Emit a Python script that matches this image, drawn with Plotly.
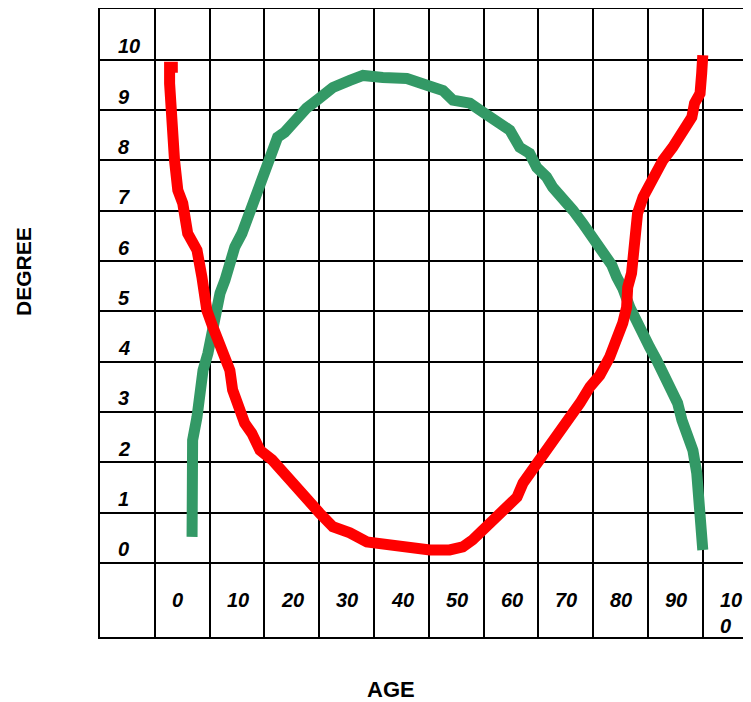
import plotly.graph_objects as go

# Red curve (age, degree)
red_age = [4.2, 2.7, 2.7, 3.1, 3.6, 4.2, 5.1, 6.0, 7.7, 8.6, 9.5, 10.6, 11.9, 12.8, 13.7,
           14.2, 15.1, 16.1, 16.4, 17.7, 19.2, 21.4, 23.4, 25.2, 27.7, 30.1, 32.5, 35.6,
           38.7, 42.9, 47.1, 50.2, 53.8, 56.2, 58.0, 59.9, 61.7, 63.5, 66.1, 67.2, 69.0,
           70.3, 72.1, 73.9, 75.7, 77.6, 79.4, 81.2, 83.0, 84.3, 85.4, 86.1, 86.3, 87.0,
           87.6, 88.1, 89.1, 90.3, 91.6, 92.7, 94.5, 96.4, 98.0, 98.5, 99.5, 99.8, 100.0]
red_deg = [9.85, 9.85, 9.53, 8.54, 8.00, 7.41, 7.15, 6.55, 6.22, 5.68, 5.02, 4.69, 4.37,
           4.03, 3.83, 3.44, 3.18, 2.98, 2.78, 2.58, 2.24, 2.05, 1.79, 1.61, 1.31, 0.99,
           0.72, 0.60, 0.42, 0.36, 0.26, 0.26, 0.26, 0.32, 0.46, 0.66, 0.81, 1.01, 1.31,
           1.59, 1.85, 2.05, 2.30, 2.60, 2.84, 3.18, 3.50, 3.73, 4.09, 4.43, 4.77, 5.08,
           5.48, 5.76, 6.42, 6.95, 7.27, 7.55, 7.86, 8.00, 8.26, 8.60, 8.86, 9.14, 9.33,
           9.73, 10.09]

# Green curve (age, degree)
green_age = [6.8, 6.8, 6.9, 7.7, 8.2, 8.8, 9.7, 10.4, 11.3, 11.9, 12.8, 13.7, 14.6, 15.9,
             16.8, 17.9, 18.6, 19.5, 20.6, 21.9, 22.4, 23.7, 25.0, 26.1, 27.7, 29.6, 32.5,
             35.6, 38.0, 41.6, 46.0, 49.8, 52.6, 54.4, 57.5, 59.9, 62.4, 64.8, 66.6, 68.4,
             69.7, 71.5, 72.6, 74.5, 76.3, 78.1, 79.9, 81.8, 83.4, 84.3, 85.4, 86.7, 88.0,
             89.1, 90.3, 91.6, 92.7, 94.0, 95.4, 96.2, 97.1, 98.2, 98.9, 99.5, 99.8, 100.0]
green_deg = [0.52, 1.59, 2.44, 2.90, 3.38, 3.83, 4.17, 4.57, 5.02, 5.36, 5.62, 5.96, 6.28,
             6.55, 6.81, 7.07, 7.35, 7.67, 8.00, 8.30, 8.46, 8.56, 8.74, 8.86, 9.04, 9.20,
             9.45, 9.59, 9.69, 9.65, 9.63, 9.49, 9.39, 9.20, 9.14, 8.96, 8.80, 8.60, 8.26,
             8.14, 7.86, 7.67, 7.47, 7.25, 7.01, 6.75, 6.47, 6.18, 5.92, 5.68, 5.46, 5.08,
             4.77, 4.47, 4.29, 4.03, 3.77, 3.50, 3.18, 2.84, 2.58, 2.24, 1.79, 1.11, 0.79,
             0.26]

x_tick_vals = [0, 10, 20, 30, 40, 50, 60, 70, 80, 90, 100]
x_tick_labels = ["0", "10", "20", "30", "40", "50", "60", "70", "80", "90", "100"]
y_tick_vals = [10, 9, 8, 7, 6, 5, 4, 3, 2, 1, 0]
y_tick_labels = ["10", "9", "8", "7", "6", "5", "4", "3", "2", "1", "0"]
y_grid_vals = [0, 1, 2, 3, 4, 5, 6, 7, 8, 9, 10, 11]

X_MIN, X_MAX = -10, 108.8
Y_MIN, Y_MAX = -1.47, 11.01

fig = go.Figure()
fig.add_trace(go.Scatter(x=green_age, y=green_deg, mode="lines",
                         line=dict(color="#339966", width=11), showlegend=False))
fig.add_trace(go.Scatter(x=red_age, y=red_deg, mode="lines",
                         line=dict(color="#FF0000", width=11), showlegend=False))

lab_font = dict(family="Liberation Sans, Arial, sans-serif", size=20, color="black",
                weight="bold", style="italic")

for v, lab in zip(x_tick_vals, x_tick_labels):
    txt = lab if len(lab) < 3 else lab[:2] + "<br>" + lab[2:]
    yy = -0.735 if len(lab) < 3 else -1.0
    fig.add_annotation(x=v + 2.74, y=yy, text=txt, showarrow=False, xanchor="left",
                       yanchor="middle", align="left", font=lab_font)

for v, lab in zip(y_tick_vals, y_tick_labels):
    fig.add_annotation(x=-7.08, y=v + 0.27, text=lab, showarrow=False, xanchor="left",
                       yanchor="middle", font=lab_font)

title_font = dict(family="Liberation Sans, Arial, sans-serif", color="black", weight="bold")
fig.add_annotation(xref="paper", yref="paper", x=(23 - 100) / 651, y=(637 - 272) / 628,
                   text="DEGREE", textangle=-90, showarrow=False, xanchor="center",
                   yanchor="middle", font=dict(size=21, **title_font))
fig.add_annotation(xref="paper", yref="paper", x=(391 - 100) / 651, y=(637 - 689) / 628,
                   text="AGE", showarrow=False, xanchor="center", yanchor="middle",
                   font=dict(size=22, **title_font))

fig.update_xaxes(range=[X_MIN, X_MAX], tickmode="array", tickvals=x_tick_vals,
                 showgrid=True, gridcolor="black",
                 gridwidth=2, zeroline=False, showticklabels=False, ticks="",
                 showline=True, linecolor="black", linewidth=2, mirror=True)
fig.update_yaxes(range=[Y_MIN, Y_MAX], tickmode="array", tickvals=y_grid_vals,
                 showgrid=True, gridcolor="black",
                 gridwidth=2, zeroline=False, showticklabels=False, ticks="",
                 showline=True, linecolor="black", linewidth=2, mirror=False)

# page body has an 8px margin, so the figure is offset to compensate
fig.update_layout(width=743, height=702, margin=dict(l=92, r=0, t=1, b=73),
                  plot_bgcolor="white", paper_bgcolor="white")

fig.write_html("out.html")
